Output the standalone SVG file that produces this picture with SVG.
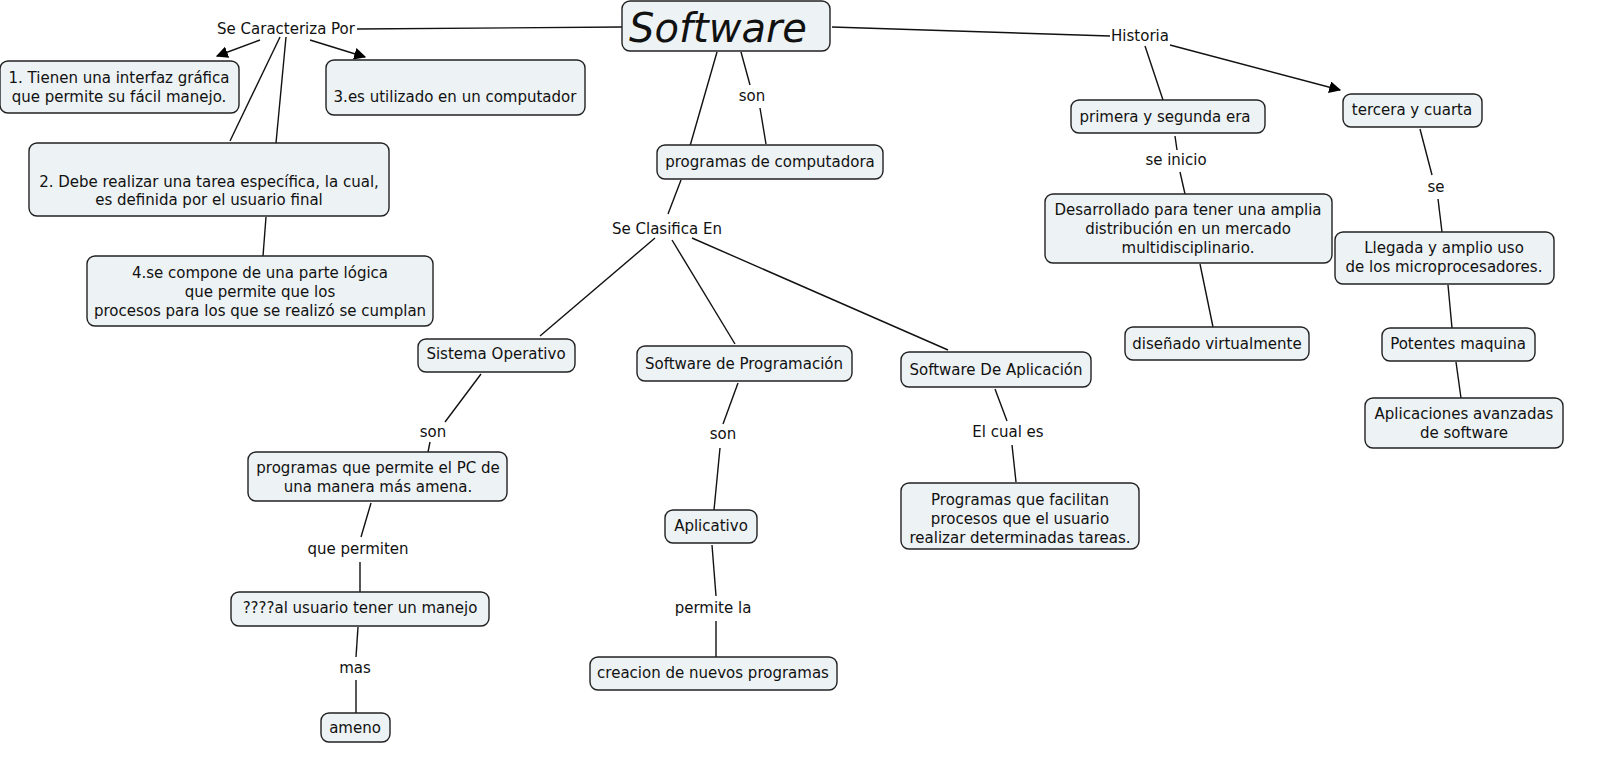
<svg xmlns="http://www.w3.org/2000/svg" width="1600" height="761" viewBox="0 0 1600 761">
<style>
rect{fill:#edf2f4;stroke:#222;stroke-width:1.4}
text{font-family:"DejaVu Sans",Verdana,sans-serif;font-size:15px;fill:#111;text-anchor:middle}
#c line{stroke:#111;stroke-width:1.4}
</style>
<defs><marker id="a" viewBox="0 0 10 10" refX="9" refY="5" markerWidth="12" markerHeight="12" markerUnits="userSpaceOnUse" orient="auto"><path d="M0,0L10,5L0,10z" fill="#000"/></marker></defs>
<rect width="1600" height="761" style="fill:#fff;stroke:none"/>
<g id="c">
<line x1="357" y1="29" x2="622" y2="27"/>
<line x1="260" y1="40" x2="217" y2="56" marker-end="url(#a)"/>
<line x1="310" y1="40" x2="365" y2="57" marker-end="url(#a)"/>
<line x1="280" y1="37" x2="230" y2="141"/>
<line x1="286" y1="37" x2="276" y2="143"/>
<line x1="266" y1="217" x2="263" y2="256"/>
<line x1="717" y1="52" x2="690" y2="146"/>
<line x1="741" y1="52" x2="750" y2="85"/>
<line x1="760" y1="108" x2="766" y2="144"/>
<line x1="681" y1="180" x2="668" y2="214"/>
<line x1="655" y1="238" x2="540" y2="336"/>
<line x1="672" y1="240" x2="735" y2="344"/>
<line x1="692" y1="238" x2="948" y2="350"/>
<line x1="481" y1="374" x2="445" y2="422"/>
<line x1="430" y1="442" x2="428" y2="452"/>
<line x1="371" y1="503" x2="361" y2="537"/>
<line x1="360" y1="562" x2="360" y2="592"/>
<line x1="358" y1="627" x2="356" y2="657"/>
<line x1="356" y1="680" x2="356" y2="713"/>
<line x1="738" y1="383" x2="723" y2="424"/>
<line x1="720" y1="448" x2="714" y2="510"/>
<line x1="712" y1="545" x2="716" y2="596"/>
<line x1="716" y1="621" x2="716" y2="657"/>
<line x1="995" y1="389" x2="1007" y2="421"/>
<line x1="1012" y1="445" x2="1016" y2="482"/>
<line x1="832" y1="27" x2="1110" y2="36"/>
<line x1="1145" y1="46" x2="1163" y2="100"/>
<line x1="1170" y1="45" x2="1340" y2="90" marker-end="url(#a)"/>
<line x1="1175" y1="136" x2="1177" y2="150"/>
<line x1="1180" y1="172" x2="1185" y2="194"/>
<line x1="1200" y1="264" x2="1213" y2="327"/>
<line x1="1420" y1="129" x2="1432" y2="175"/>
<line x1="1438" y1="199" x2="1442" y2="232"/>
<line x1="1448" y1="285" x2="1452" y2="328"/>
<line x1="1456" y1="362" x2="1461" y2="398"/>
</g>
<g id="labels">
<text x="286" y="34">Se Caracteriza Por</text>
<text x="752" y="101">son</text>
<text x="667" y="234">Se Clasifica En</text>
<text x="433" y="437">son</text>
<text x="358" y="554">que permiten</text>
<text x="355" y="673">mas</text>
<text x="723" y="439">son</text>
<text x="713" y="613">permite la</text>
<text x="1008" y="437">El cual es</text>
<text x="1140" y="41">Historia</text>
<text x="1176" y="165">se inicio</text>
<text x="1436" y="192">se</text>
</g>
<g id="software"><rect x="622" y="1" width="208" height="50" rx="8"/><text x="718" y="42" style="font-size:40px;font-style:italic">Software</text></g>
<g id="n1"><rect x="0" y="61" width="239" height="52" rx="8"/><text x="119" y="83">1. Tienen una interfaz gráfica</text><text x="119" y="102">que permite su fácil manejo.</text></g>
<g id="n3"><rect x="326" y="60" width="259" height="55" rx="8"/><text x="455" y="102">3.es utilizado en un computador</text></g>
<g id="n2"><rect x="29" y="143" width="360" height="73" rx="8"/><text x="209" y="187">2. Debe realizar una tarea específica, la cual,</text><text x="209" y="205">es definida por el usuario final</text></g>
<g id="n4"><rect x="87" y="256" width="346" height="70" rx="8"/><text x="260" y="278">4.se compone de una parte lógica</text><text x="260" y="297">que permite que los</text><text x="260" y="316">procesos para los que se realizó se cumplan</text></g>
<g id="prog"><rect x="657" y="145" width="226" height="34" rx="8"/><text x="770" y="167">programas de computadora</text></g>
<g id="so"><rect x="418" y="339" width="157" height="33" rx="8"/><text x="496" y="359">Sistema Operativo</text></g>
<g id="sp"><rect x="637" y="346" width="215" height="35" rx="8"/><text x="744" y="369">Software de Programación</text></g>
<g id="sa"><rect x="901" y="352" width="190" height="35" rx="8"/><text x="996" y="375">Software De Aplicación</text></g>
<g id="pp"><rect x="248" y="452" width="259" height="49" rx="8"/><text x="378" y="473">programas que permite el PC de</text><text x="378" y="492">una manera más amena.</text></g>
<g id="us"><rect x="231" y="592" width="258" height="34" rx="8"/><text x="360" y="613">????al usuario tener un manejo</text></g>
<g id="am"><rect x="321" y="713" width="69" height="29" rx="8"/><text x="355" y="733">ameno</text></g>
<g id="ap"><rect x="665" y="510" width="92" height="33" rx="8"/><text x="711" y="531">Aplicativo</text></g>
<g id="cr"><rect x="590" y="657" width="247" height="33" rx="8"/><text x="713" y="678">creacion de nuevos programas</text></g>
<g id="pf"><rect x="901" y="483" width="238" height="66" rx="8"/><text x="1020" y="505">Programas que facilitan</text><text x="1020" y="524">procesos que el usuario</text><text x="1020" y="543">realizar determinadas tareas.</text></g>
<g id="pr"><rect x="1071" y="100" width="194" height="33" rx="8"/><text x="1165" y="122">primera y segunda era</text></g>
<g id="de"><rect x="1045" y="194" width="287" height="69" rx="8"/><text x="1188" y="215">Desarrollado para tener una amplia</text><text x="1188" y="234">distribución en un mercado</text><text x="1188" y="253">multidisciplinario.</text></g>
<g id="di"><rect x="1125" y="327" width="184" height="33" rx="8"/><text x="1217" y="349">diseñado virtualmente</text></g>
<g id="te"><rect x="1343" y="94" width="139" height="33" rx="8"/><text x="1412" y="115">tercera y cuarta</text></g>
<g id="ll"><rect x="1335" y="232" width="219" height="52" rx="8"/><text x="1444" y="253">Llegada y amplio uso</text><text x="1444" y="272">de los microprocesadores.</text></g>
<g id="po"><rect x="1382" y="328" width="153" height="33" rx="8"/><text x="1458" y="349">Potentes maquina</text></g>
<g id="aa"><rect x="1365" y="398" width="198" height="50" rx="8"/><text x="1464" y="419">Aplicaciones avanzadas</text><text x="1464" y="438">de software</text></g>
</svg>
